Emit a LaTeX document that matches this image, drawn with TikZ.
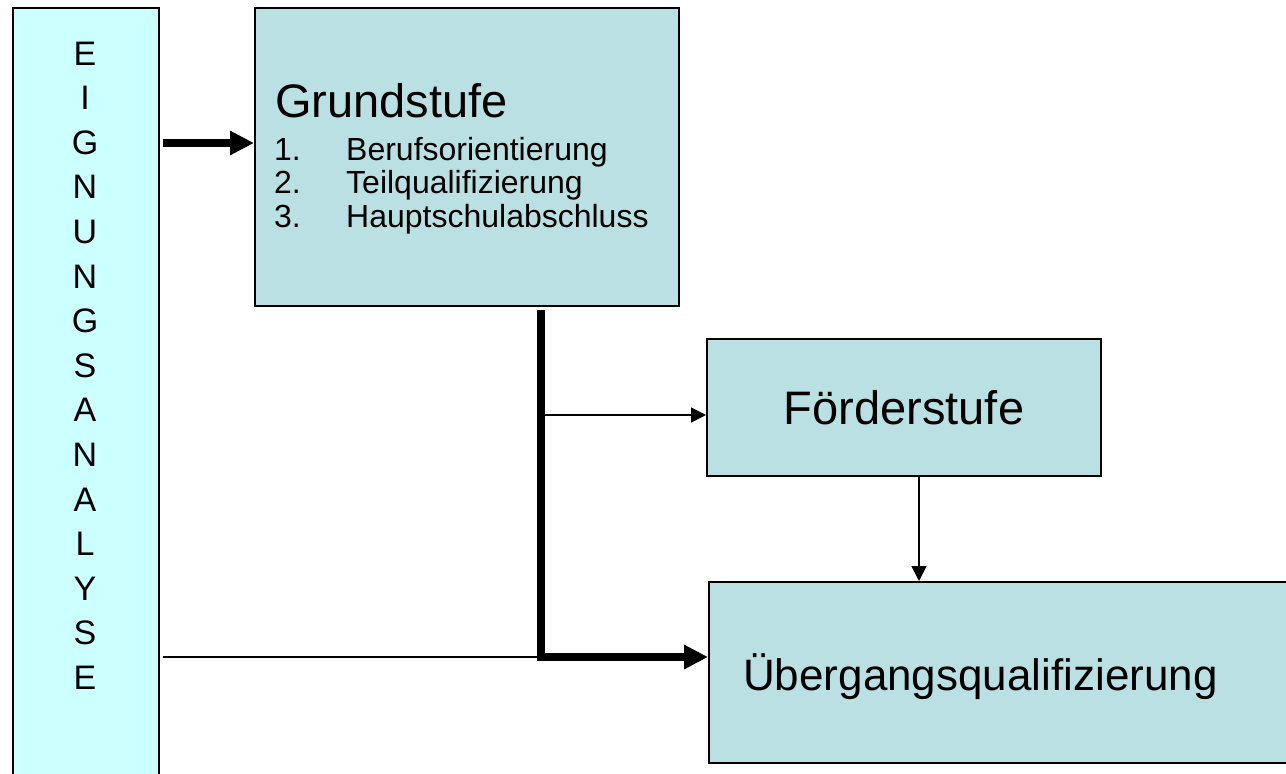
\documentclass[tikz,border=0pt]{standalone}
\usepackage{fontspec}
\setmainfont{Liberation Sans}
\usetikzlibrary{arrows.meta}
\definecolor{paleblue}{HTML}{BBE0E3}
\definecolor{palecyan}{HTML}{CCFFFF}
\begin{document}
\begin{tikzpicture}[x=1pt, y=-1pt, line join=miter,
		box/.style={draw, line width=2pt, fill=paleblue, inner sep=0pt},
		thinarr/.style={line width=1.8pt, -{Triangle[length=15pt,width=15pt]}},
		thickarr/.style={line width=8pt, -{Triangle[length=24pt,width=23pt]}},
		big/.style={font=\fontsize{47}{56}\selectfont, inner sep=0pt},
		small/.style={font=\fontsize{32}{35}\selectfont, inner sep=0pt, anchor=base west}]
	\useasboundingbox (0,0) rectangle (1286,774);
	\clip (0,0) rectangle (1286,774);
	\node[box, fill=palecyan, anchor=north west, minimum width=146, minimum height=800] (eig) at (12,7) {};
	\node[box, anchor=north west, minimum width=424, minimum height=298] (grund) at (254,7) {};
	\node[box, big, minimum width=394, minimum height=137] (foerder) at (904,407.5) {Förderstufe};
	\node[box, anchor=north west, minimum width=640, minimum height=181] (ueber) at (708,581) {};
	\foreach \c [count=\i] in {E,I,G,N,U,N,G,S,A,N,A,L,Y,S,E}
		\node[font=\fontsize{34}{40}\selectfont, inner sep=0pt, anchor=base] (l\i) at (85,{65+44.6*(\i-1)}) {\c};
	\node[big, anchor=base west] (gtitle) at (275,117) {Grundstufe};
	\foreach \n/\t [count=\i] in {1/Berufsorientierung, 2/Teilqualifizierung, 3/Hauptschulabschluss} {
		\node[small] (num\i) at (274,{160+33.5*(\i-1)}) {\n.};
		\node[small] (item\i) at (346,{160+33.5*(\i-1)}) {\t};
	}
	\node[big, font=\fontsize{44}{53}\selectfont, anchor=base west] (utext) at (743,690) {Übergangsqualifizierung};
	\coordinate (eigout) at (163,143);
	\coordinate (eiglow) at (163,657);
	\coordinate (split) at (541,310);
	\coordinate (branch) at (541,415);
	\coordinate (join) at (541,657);
	\draw[thickarr] (eigout) -- (eigout -| grund.west);
	\draw[line width=1.8pt] (eiglow) -- (join);
	\draw[thickarr] (split) |- (join -| ueber.west);
	\draw[thinarr] (branch) -- (branch -| foerder.west);
	\draw[thinarr] ([xshift=15pt]foerder.south) -- ([xshift=15pt]foerder.south |- ueber.north);
\end{tikzpicture}
\end{document}
